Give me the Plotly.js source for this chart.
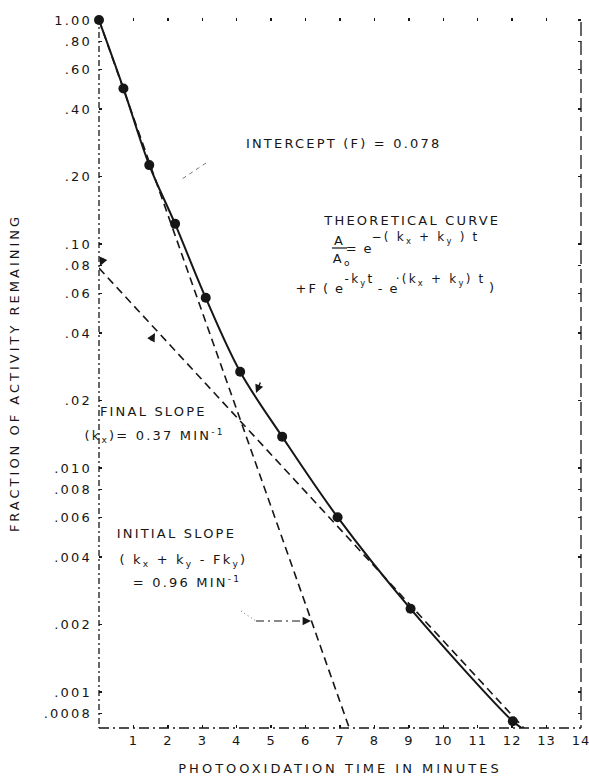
<!DOCTYPE html>
<html><head><meta charset="utf-8">
<script src="https://cdn.plot.ly/plotly-3.0.1.min.js"></script>
<style>
html,body{margin:0;padding:0;background:#fff;}
#chart{width:589px;height:776px;}
#chart svg text{letter-spacing:2.2px;}
#chart .xtick text{letter-spacing:1px;}
#chart text.xtitle, #chart text.ytitle{letter-spacing:3px;}
</style></head><body><div id="chart"></div>
<script>
// measured activity (filled circles)
const dataTime = [0, 0.71, 1.46, 2.21, 3.10, 4.10, 5.32, 6.93, 9.05, 12.02];
const dataActivity = [1.0, 0.495, 0.225, 0.123, 0.0575, 0.0269, 0.0138, 0.00603, 0.00235, 0.00074];
// theoretical curve (solid)
const curveTime = [0, 0.71, 1.46, 2.21, 3.10, 4.10, 5.32, 6.93, 9.05, 12.02, 12.28];
const curveActivity = [1.0, 0.495, 0.225, 0.123, 0.0575, 0.0269, 0.0138, 0.00603, 0.00235, 0.00074, 0.00069];
// initial slope line (dashed)
const initialTime = [0, 7.27];
const initialActivity = [1.0, 0.00069];
// final slope line (dashed), intercept F = 0.078
const finalTime = [0, 12.34];
const finalActivity = [0.078, 0.00069];
// ticks
const xTickVals = [1,2,3,4,5,6,7,8,9,10,11,12,13,14];
const xTickText = ['1','2','3','4','5','6','7','8','9','10','11','12','13','14'];
const yTickVals = [1, 0.8, 0.6, 0.4, 0.2, 0.1, 0.08, 0.06, 0.04, 0.02, 0.01, 0.008, 0.006, 0.004, 0.002, 0.001, 0.0008];
const yTickText = ['1.00','.80','.60','.40','.20','.10','.08','.06','.04','.02','.010','.008','.006','.004','.002','.001','.0008'];

const ink = '#161616';
const fnt = {family: 'DejaVu Sans, sans-serif', size: 13, color: ink};
const sfnt = {family: 'DejaVu Sans, sans-serif', size: 12, color: ink};

const traces = [
  {x: initialTime, y: initialActivity, mode: 'lines', line: {color: ink, width: 1.6, dash: '8px,5px'}, hoverinfo: 'skip'},
  {x: finalTime, y: finalActivity, mode: 'lines', line: {color: ink, width: 1.6, dash: '8px,5px'}, hoverinfo: 'skip'},
  {x: curveTime, y: curveActivity, mode: 'lines', line: {color: ink, width: 2, shape: 'spline', smoothing: 1}, hoverinfo: 'skip'},
  {x: dataTime, y: dataActivity, mode: 'markers', marker: {color: ink, size: 10}, cliponaxis: false}
];

function P(px, py){ return {x: (px-99)/482, y: (728-py)/710}; }
function txt(text, px, py, font){
  const p = P(px, py);
  return {xref:'paper', yref:'paper', x:p.x, y:p.y, text:text, showarrow:false,
          xanchor:'center', yanchor:'middle', font: font||fnt};
}
function arrowTip(px, py, ax, ay){
  const p = P(px, py);
  return {xref:'paper', yref:'paper', x:p.x, y:p.y, text:'', showarrow:true, arrowhead:2,
          arrowsize:1.2, arrowwidth:1.4, arrowcolor:ink, ax:ax, ay:ay, standoff:0};
}
function seg(px0, py0, px1, py1, dash, color, w){
  const a = P(px0, py0), b = P(px1, py1);
  return {type:'line', xref:'paper', yref:'paper', x0:a.x, y0:a.y, x1:b.x, y1:b.y,
          line:{color: color||ink, width: w||1.2, dash: dash||'solid'}};
}

const annotations = [
  txt('INTERCEPT (F) = 0.078', 343, 143),
  txt('THEORETICAL CURVE', 412, 221),
  txt('A', 339, 240),
  txt('A<sub>o</sub>', 342, 259),
  txt('=\u2009e', 360, 248),
  txt('\u2212( k<sub>x</sub> + k<sub>y</sub> ) t', 425, 238, sfnt),
  txt('+F\u2009(\u2009e', 320, 288),
  txt('-k<sub>y</sub>t', 359, 280, sfnt),
  txt('-\u2009e', 388, 288),
  txt('\u00b7(k<sub>x</sub> + k<sub>y</sub>) t', 441, 280, sfnt),
  txt(')', 492, 287),
  txt('FINAL SLOPE', 153, 412),
  txt('(k<sub>x</sub>)= 0.37 MIN<sup>-1</sup>', 154, 436),
  txt('INITIAL SLOPE', 176, 533),
  txt('( k<sub>x</sub> + k<sub>y</sub> - Fk<sub>y</sub>)', 183, 560),
  txt('= 0.96 MIN<sup>-1</sup>', 187, 582),
  arrowTip(311, 621, -9, 0),
  arrowTip(155, 333, -5, 9),
  arrowTip(256, 393, 5, -12),
  arrowTip(100, 266, 4, -9)
];

const shapes = [
  seg(99, 18, 99, 728, '6px,3px,2px,3px', ink, 1.3),
  seg(581, 22, 581, 728, '14px,5px', ink, 1.3),
  seg(99, 728, 581, 728, '10px,4px,2px,4px', ink, 1.4),
  seg(206, 163, 182, 179, '4px,4px', '#777', 1),
  seg(241, 611, 256, 621, '1px,3px', '#666', 1),
  seg(256, 621, 305, 621, '8px,4px,2px,4px', ink, 1.2),
  seg(332, 248, 347, 248, 'solid', ink, 1.2)
];

const layout = {
  width: 589, height: 776,
  margin: {l: 99, r: 8, t: 18, b: 48},
  paper_bgcolor: '#fff', plot_bgcolor: '#fff',
  showlegend: false,
  font: fnt,
  xaxis: {range: [0, 14], tickvals: xTickVals, ticktext: xTickText, ticks: 'inside', ticklen: 3,
          tickwidth: 1.5, tickcolor: ink, mirror: 'ticks', showgrid: false, zeroline: false, showline: false,
          ticklabeloverflow: 'allow', ticklabelstandoff: 3,
          tickfont: fnt, title: {text: 'PHOTOOXIDATION TIME IN MINUTES', font: fnt, standoff: 16}},
  yaxis: {type: 'log', range: [-3.161, 0.009], tickvals: yTickVals, ticktext: yTickText, ticks: 'inside', ticklen: 3,
          tickwidth: 1.5, tickcolor: ink, mirror: 'ticks', showgrid: false, zeroline: false, showline: false,
          tickfont: fnt, ticklabelstandoff: 6, title: {text: 'FRACTION OF ACTIVITY REMAINING', font: fnt, standoff: 32}},
  annotations: annotations,
  shapes: shapes
};

Plotly.newPlot('chart', traces, layout, {displayModeBar: false, staticPlot: true});
</script></body></html>
